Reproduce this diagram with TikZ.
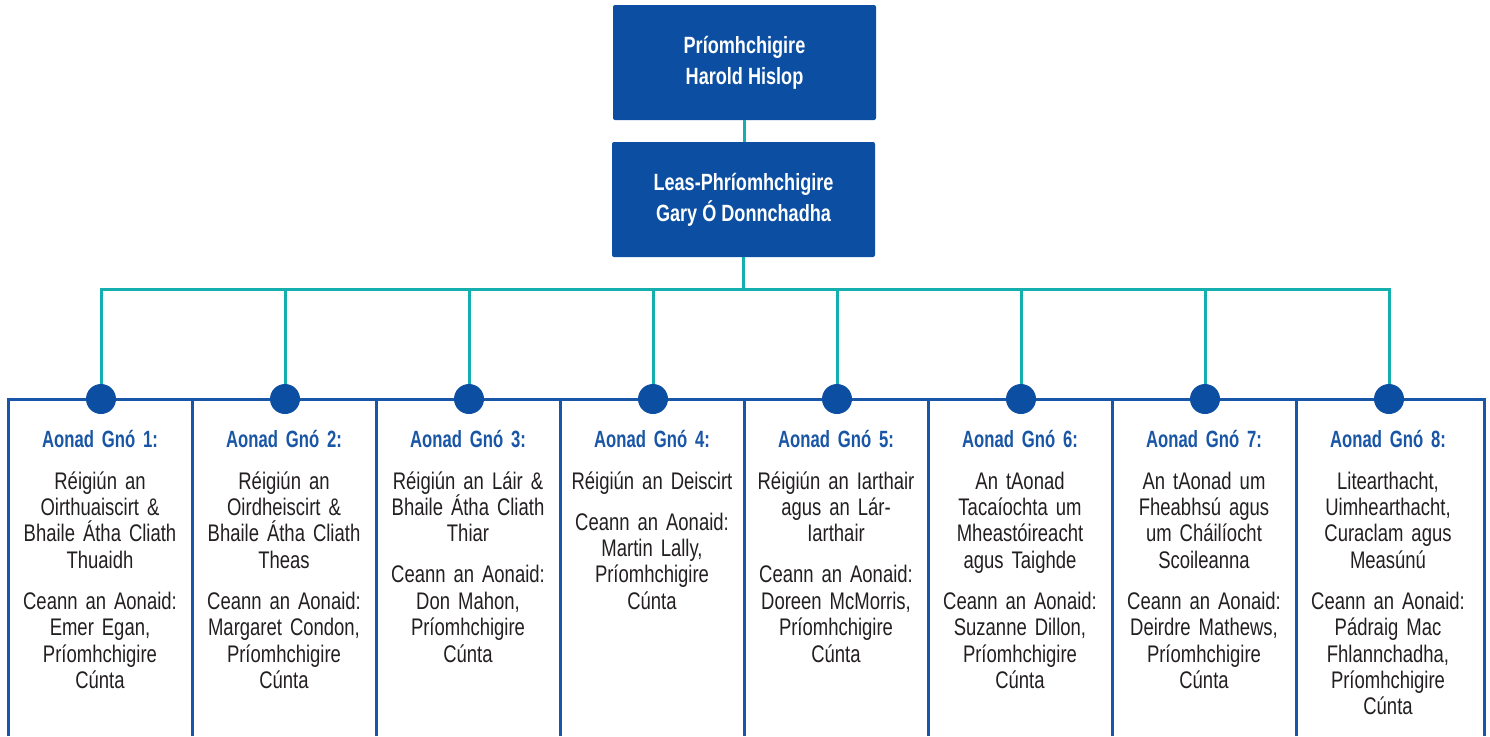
\documentclass[tikz,border=0pt]{standalone}
\usepackage{fontspec}
\setmainfont{Liberation Sans}[FakeStretch=0.77]
\newfontfamily\unitheadfont{Liberation Sans}[FakeStretch=0.71]
\newfontfamily\topboxfont{Liberation Sans}[FakeStretch=0.77]
\definecolor{boxblue}{HTML}{0B4EA2}
\definecolor{colblue}{HTML}{1856A9}
\definecolor{dotblue}{HTML}{0B4EA2}
\definecolor{headblue}{HTML}{1A56A6}
\definecolor{linkteal}{HTML}{14AFAE}
\definecolor{textblack}{HTML}{231F20}
\begin{document}
\begin{tikzpicture}[x=1pt,y=-1pt,
  topbox/.style={fill=boxblue, rounded corners=2pt, minimum width=263pt, minimum height=115pt,
    text=white, font={\topboxfont\fontsize{23.5}{31}\bfseries\selectfont}, align=center, inner sep=0pt},
  link/.style={draw=linkteal, line width=3pt},
  colline/.style={draw=colblue, line width=3pt},
  dot/.style={circle, fill=dotblue, minimum size=30pt, inner sep=0pt},
  unithead/.style={anchor=base, text=headblue, font={\unitheadfont\fontsize{23.5}{26.5}\bfseries\selectfont},
    text width=180pt, align=center, inner sep=0pt},
  unittext/.style={anchor=base, text=textblack, font={\fontsize{24}{26.4}\selectfont},
    text width=182pt, align=center, inner sep=0pt}]
\useasboundingbox (0,0) rectangle (1490,736);

% top boxes
\node[topbox] (chief) at (744.5,62.5) {Príomhchigire\\Harold Hislop};
\node[topbox] (deputy) at (743.5,199.5) {Leas-Phríomhchigire\\Gary Ó Donnchadha};
\coordinate (bus) at (743.5,289);

% column frame
\draw[colline] (8,736) -- (8,399) -- (1484,399) -- (1484,736);
\foreach \k in {1,...,7}{
  \draw[colline] (8+184*\k,399) -- (8+184*\k,736);
}

% connectors top
\draw[link] (chief.south) -- (chief.south |- deputy.north);
\draw[link] (deputy.south) -- (bus);

\foreach \i/\reg/\n/\hd in {
 1/{Réigiún an\\Oirthuaiscirt \&\\Bhaile Átha Cliath\\Thuaidh}/4/{Ceann an Aonaid:\\Emer Egan,\\Príomhchigire\\Cúnta},
 2/{Réigiún an\\Oirdheiscirt \&\\Bhaile Átha Cliath\\Theas}/4/{Ceann an Aonaid:\\Margaret Condon,\\Príomhchigire\\Cúnta},
 3/{Réigiún an Láir \&\\Bhaile Átha Cliath\\Thiar}/3/{Ceann an Aonaid:\\Don Mahon,\\Príomhchigire\\Cúnta},
 4/{Réigiún an Deiscirt}/1/{Ceann an Aonaid:\\Martin Lally,\\Príomhchigire\\Cúnta},
 5/{Réigiún an Iarthair\\agus an Lár-\\Iarthair}/3/{Ceann an Aonaid:\\Doreen McMorris,\\Príomhchigire\\Cúnta},
 6/{An tAonad\\Tacaíochta um\\Mheastóireacht\\agus Taighde}/4/{Ceann an Aonaid:\\Suzanne Dillon,\\Príomhchigire\\Cúnta},
 7/{An tAonad um\\Fheabhsú agus\\um Cháilíocht\\Scoileanna}/4/{Ceann an Aonaid:\\Deirdre Mathews,\\Príomhchigire\\Cúnta},
 8/{Litearthacht,\\Uimhearthacht,\\Curaclam agus\\Measúnú}/4/{Ceann an Aonaid:\\Pádraig Mac\\Fhlannchadha,\\Príomhchigire\\Cúnta}}{
  \pgfmathsetmacro\cx{8+184*(\i-1)+92}
  \pgfmathsetmacro\cy{489+(\n-1)*26.4+41}
  \node[dot] (d\i) at (\cx+1,399) {};
  \draw[link] (bus) -| (d\i);
  \node[unithead] (h\i) at (\cx,447) {Aonad Gnó \i:};
  \node[unittext] (r\i) at (\cx,489) {\reg};
  \node[unittext] (c\i) at (\cx,\cy) {\hd};
}
\end{tikzpicture}
\end{document}
